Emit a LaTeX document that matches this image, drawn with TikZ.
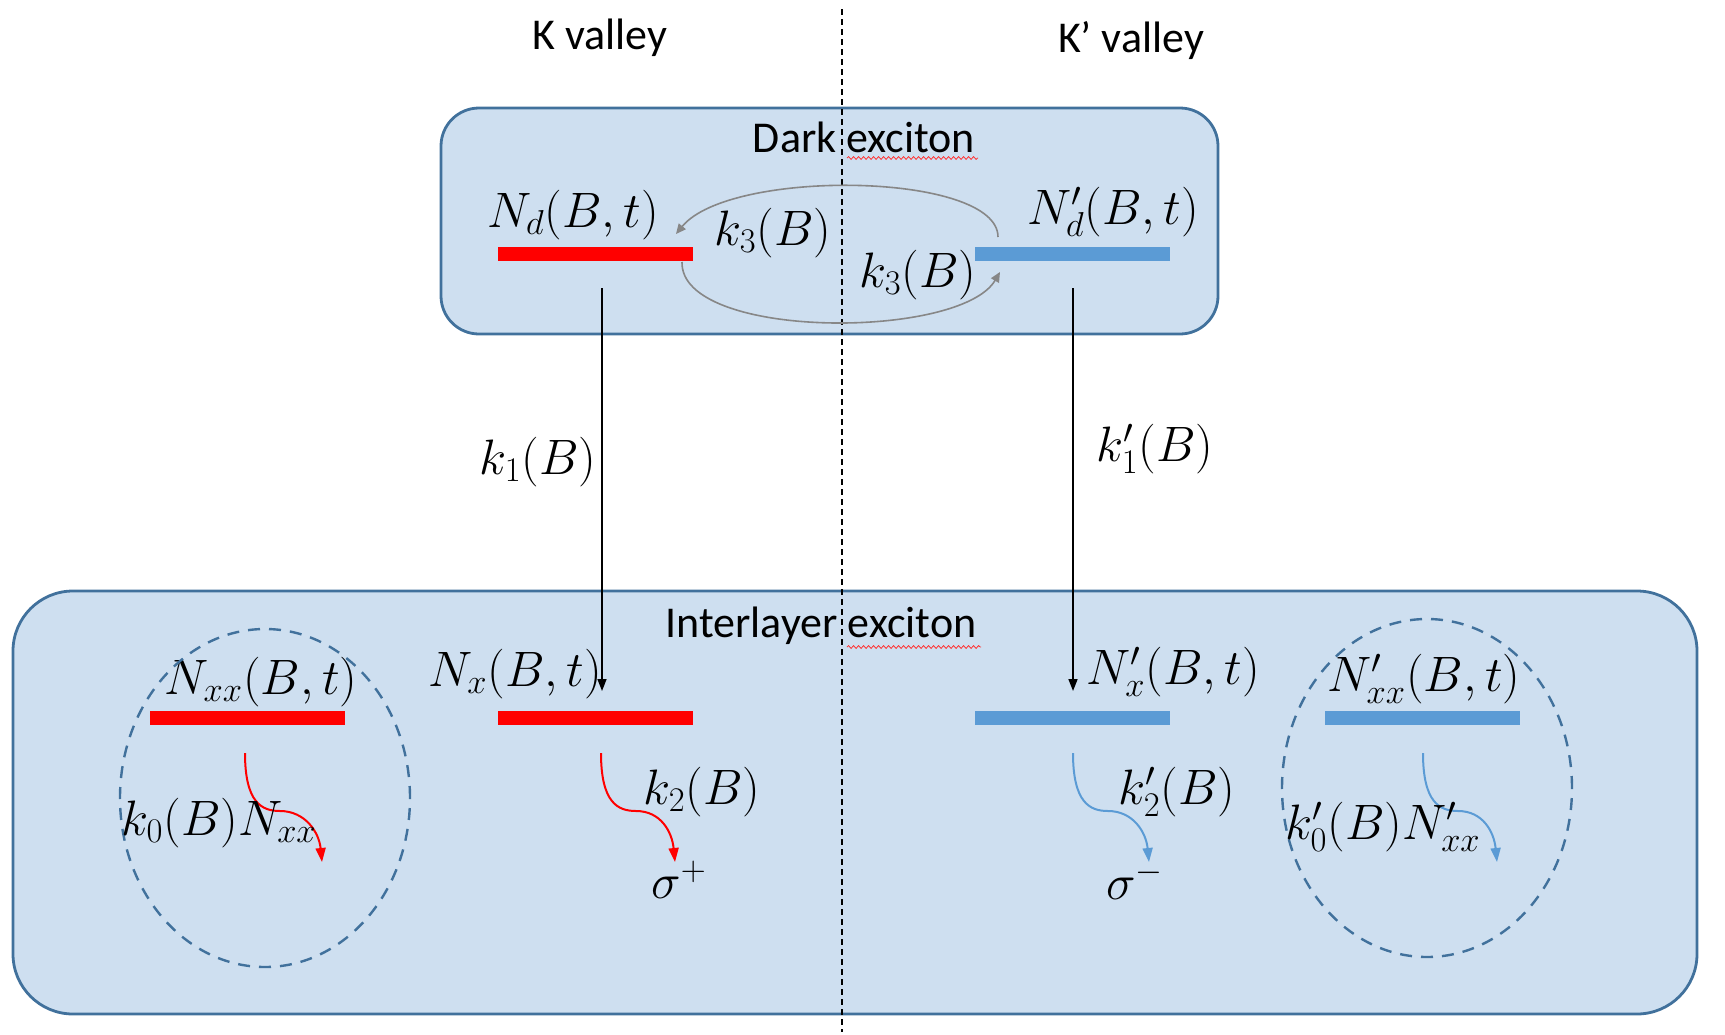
\documentclass[tikz,border=0pt]{standalone}
\usepackage{fontspec}
\setmainfont{Carlito}
\usetikzlibrary{arrows.meta,decorations.pathmorphing,shapes.geometric}
\definecolor{boxfill}{RGB}{206,223,240}
\definecolor{boxline}{RGB}{65,113,156}
\definecolor{barblue}{RGB}{91,155,213}
\definecolor{loopgray}{RGB}{135,135,135}
\tikzset{
  panel/.style={draw=boxline, line width=1.4pt, fill=boxfill, inner sep=0pt},
  bar/.style={inner sep=0pt, minimum width=97.5pt, minimum height=7pt},
  redbar/.style={bar, fill=red},
  bluebar/.style={bar, fill=barblue},
  ttl/.style={font=\fontsize{22}{26}\selectfont, inner sep=1pt},
  lbl/.style={font=\fontsize{25}{30}\selectfont, inner sep=1pt},
  ring/.style={draw=boxline, line width=1.2pt, dash pattern=on 6pt off 4.5pt, ellipse, minimum width=145pt, minimum height=169pt, inner sep=0pt},
  trans/.style={line width=0.8pt, -{Triangle[length=6pt,width=4.5pt]}},
  loop/.style={draw=loopgray, line width=0.8pt, -{Triangle[length=5pt,width=4.5pt]}},
  redwave/.style={draw=red, line width=1pt, -{Triangle[length=7pt,width=5pt]}},
  bluewave/.style={draw=barblue, line width=1pt, -{Triangle[length=7pt,width=5pt]}},
  squiggle/.style={draw=red!80, line width=0.4pt, decorate, decoration={snake, amplitude=0.7pt, segment length=2.5pt}},
}
\begin{document}
\begin{tikzpicture}[x=0.5pt,y=-0.5pt]
\useasboundingbox (0,0) rectangle (1725,1034);

% panels
\node[panel, rounded corners=19pt, minimum width=388.5pt, minimum height=113pt] (dark) at (829.5,221) {};
\node[panel, rounded corners=30pt, minimum width=842pt, minimum height=211.5pt] (inter) at (855,802.5) {};

% centre divider
\coordinate (divtop) at (842,9);
\coordinate (divbot) at (842,1032);
\draw[line width=0.6pt, dash pattern=on 3pt off 2pt] (divtop) -- (divbot);

% headings
\node[ttl] (kv) at (600,38) {K valley};
\node[ttl] (kpv) at (1131,41) {K’ valley};
\node[ttl] (dtitle) at (864,137) {Dark exciton};
\node[ttl] (ititle) at (821,626) {Interlayer exciton};
\coordinate (sq1a) at (847,158); \coordinate (sq1b) at (978,158);
\draw[squiggle] (sq1a) -- (sq1b);
\coordinate (sq2a) at (847,647); \coordinate (sq2b) at (981,647);
\draw[squiggle] (sq2a) -- (sq2b);

% dark exciton levels
\node[redbar] (Kd) at (595.5,253.5) {};
\node[bluebar] (Kpd) at (1072,253.5) {};
\node[lbl] (NdL) at (573,215) {$N_d(B,t)$};
\node[lbl] (NpdL) at (1113,212) {$N'_d(B,t)$};
\node[lbl] (k3a) at (773,233) {$k_3(B)$};
\node[lbl] (k3b) at (918,275) {$k_3(B)$};

% intervalley loop
\coordinate (la) at (998,237);
\coordinate (lb) at (676,234);
\coordinate (lc) at (682,262);
\coordinate (ld) at (1000,272);
\draw[loop] (la) .. controls (998,172) and (730,168) .. (lb);
\draw[loop] (lc) .. controls (680,340) and (960,340) .. (ld);

% interlayer levels
\node[redbar] (Kxx) at (247.5,718) {};
\node[redbar] (Kx) at (595.5,718) {};
\node[bluebar] (Kpx) at (1072,718) {};
\node[bluebar] (Kpxx) at (1422.5,718) {};
\node[lbl] (NxxL) at (261,682) {$N_{xx}(B,t)$};
\node[lbl] (NxL) at (515,674) {$N_x(B,t)$};
\node[lbl] (NpxL) at (1173,672) {$N'_x(B,t)$};
\node[lbl] (NpxxL) at (1424,679) {$N'_{xx}(B,t)$};

% dashed groupings
\node[ring] (ringL) at (265,798) {};
\node[ring] (ringR) at (1427,788) {};

% dark -> interlayer transfer
\coordinate (t1s) at (602,288); \coordinate (t1e) at (602,691);
\coordinate (t2s) at (1073,288); \coordinate (t2e) at (1073,691);
\draw[trans] (t1s) -- (t1e);
\draw[trans] (t2s) -- (t2e);
\node[lbl] (k1L) at (538,462) {$k_1(B)$};
\node[lbl] (kp1L) at (1155,449) {$k'_1(B)$};

% radiative / decay arrows
\coordinate (w1s) at (245,753); \coordinate (w1e) at (322,862);
\coordinate (w2s) at (601,753); \coordinate (w2e) at (675,862);
\coordinate (w3s) at (1073,753); \coordinate (w3e) at (1149,862);
\coordinate (w4s) at (1423,753); \coordinate (w4e) at (1497,862);
\draw[redwave] (w1s) .. controls +(0,50) and +(-18,0) .. ++(35,58) .. controls +(25,0) and +(-3,-30) .. (w1e);
\draw[redwave] (w2s) .. controls +(0,50) and +(-18,0) .. ++(35,58) .. controls +(25,0) and +(-3,-30) .. (w2e);
\draw[bluewave] (w3s) .. controls +(0,50) and +(-18,0) .. ++(35,58) .. controls +(25,0) and +(-3,-30) .. (w3e);
\draw[bluewave] (w4s) .. controls +(0,50) and +(-18,0) .. ++(35,58) .. controls +(25,0) and +(-3,-30) .. (w4e);

\node[lbl] (k0L) at (219,823) {$k_0(B)N_{xx}$};
\node[lbl] (k2L) at (702,792) {$k_2(B)$};
\node[lbl] (spL) at (679,880) {$\sigma^+$};
\node[lbl] (smL) at (1135,880) {$\sigma^-$};
\node[lbl] (kp2L) at (1177,792) {$k'_2(B)$};
\node[lbl] (kp0L) at (1383,827) {$k'_0(B)N'_{xx}$};
\end{tikzpicture}
\end{document}
